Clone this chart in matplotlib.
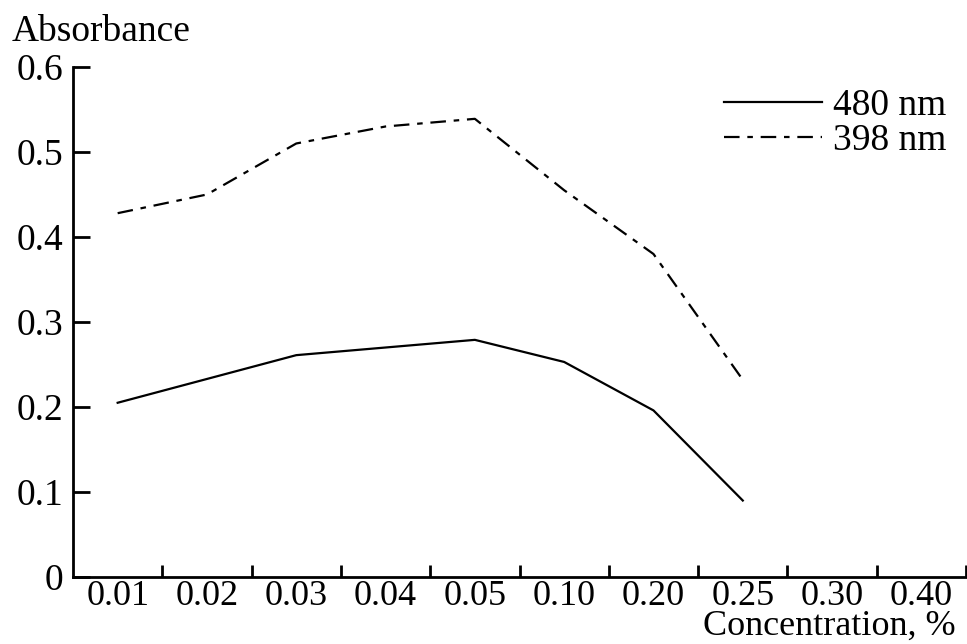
import matplotlib
matplotlib.use("Agg")
import matplotlib.pyplot as plt
import numpy as np

conc_labels = ["0.01", "0.02", "0.03", "0.04", "0.05", "0.10", "0.20", "0.25", "0.30", "0.40"]
abs_480 = [0.205, 0.233, 0.261, 0.270, 0.279, 0.253, 0.196, 0.090]
abs_398 = [0.428, 0.450, 0.510, 0.530, 0.539, 0.455, 0.380, 0.232]

plt.rcParams['font.family'] = ['Liberation Serif', 'DejaVu Serif']
fs = 27

fig = plt.figure(figsize=(9.67, 6.44), dpi=100)
ax = fig.add_axes([0.0755, 0.104, 0.9235, 0.792])

pos = np.arange(len(conc_labels)) + 0.5
ax.plot(pos[:len(abs_480)], abs_480, color='black', lw=1.6, label='480 nm')
ax.plot(pos[:len(abs_398)], abs_398, color='black', lw=1.6,
        dashes=(7, 3.5, 2.5, 3.5), label='398 nm')

ax.set_xlim(0, 10)
ax.set_ylim(0, 0.6)
ax.spines['top'].set_visible(False)
ax.spines['right'].set_visible(False)
ax.spines['left'].set_linewidth(2)
ax.spines['bottom'].set_linewidth(2)

# boundary ticks, labels centred between them
ax.set_xticks(np.arange(1, 11))
ax.set_xticklabels([])
ax.set_xticks(pos, minor=True)
ax.set_xticklabels(conc_labels, minor=True)
ax.tick_params(axis='x', which='major', direction='in', length=9, width=2)
ax.tick_params(axis='x', which='minor', length=0, pad=2, labelsize=26)

ax.set_yticks([0, 0.1, 0.2, 0.3, 0.4, 0.5, 0.6])
ax.set_yticklabels(["0", "0.1", "0.2", "0.3", "0.4", "0.5", "0.6"])
ax.tick_params(axis='y', direction='in', length=12, width=2, pad=7, labelsize=fs)

fig.text(0.012, 0.936, "Absorbance", fontsize=fs, ha='left', va='baseline')
fig.text(0.988, 0.014, "Concentration, %", fontsize=26, ha='right', va='baseline')

ax.legend(loc='upper left', bbox_to_anchor=(0.749, 0.862), bbox_transform=fig.transFigure,
          frameon=False, fontsize=fs, handlelength=2.6, handletextpad=0.3,
          labelspacing=0.0, borderpad=0, borderaxespad=0)

fig.savefig("out.png", dpi=100)
